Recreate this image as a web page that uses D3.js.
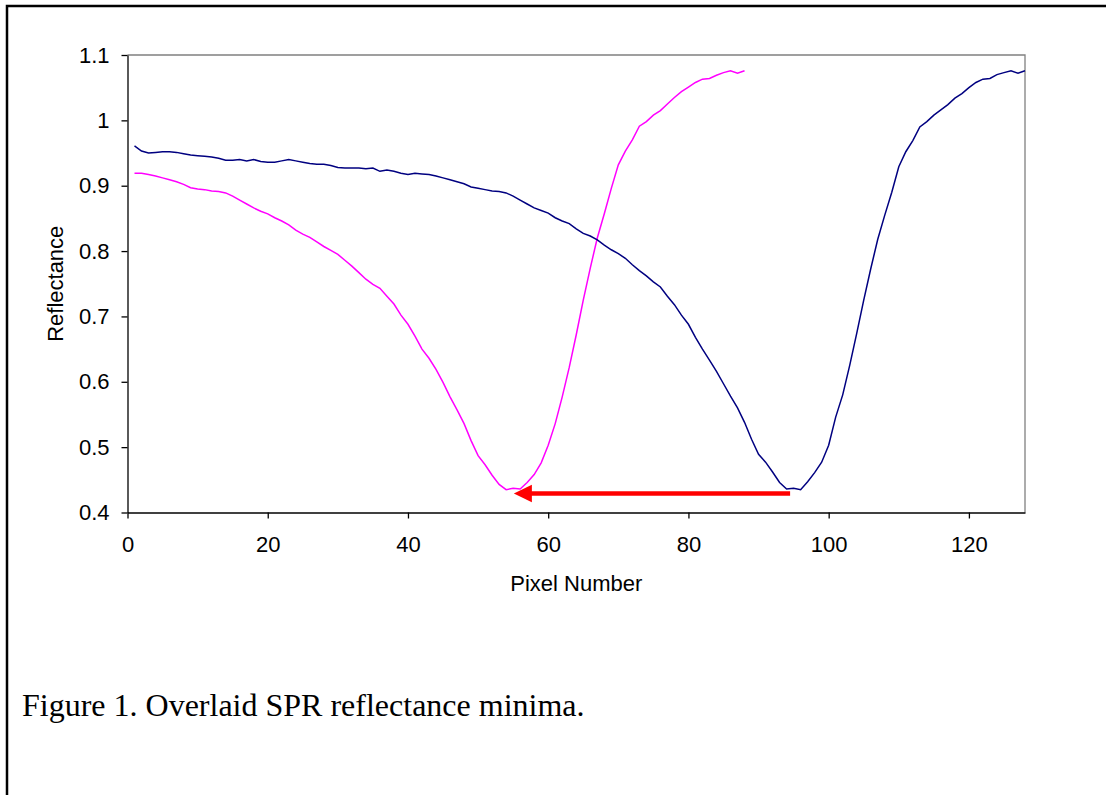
<!DOCTYPE html>
<html>
<head>
<meta charset="utf-8">
<script src="https://cdn.jsdelivr.net/npm/d3@7"></script>
<style>
  html, body { margin: 0; padding: 0; background: #fff; }
  svg { display: block; }
</style>
</head>
<body>
<svg id="chart" width="1106" height="795"></svg>
<script>
// ---- data ----
const pixelsBlue = d3.range(1, 129);
const reflBlue = [
  0.961,0.953,0.950,0.951,0.952,0.952,0.951,0.949,0.947,0.946,
  0.945,0.944,0.942,0.939,0.939,0.940,0.938,0.940,0.937,0.936,
  0.936,0.938,0.940,0.938,0.936,0.934,0.933,0.933,0.931,0.928,
  0.927,0.927,0.927,0.926,0.927,0.922,0.924,0.922,0.919,0.917,
  0.919,0.918,0.917,0.915,0.912,0.909,0.906,0.903,0.898,0.896,
  0.894,0.892,0.891,0.889,0.884,0.878,0.872,0.866,0.862,0.858,
  0.851,0.846,0.842,0.834,0.827,0.823,0.817,0.809,0.802,0.796,
  0.789,0.779,0.770,0.762,0.753,0.745,0.731,0.718,0.702,0.688,
  0.668,0.650,0.633,0.616,0.597,0.578,0.560,0.538,0.512,0.489,
  0.477,0.462,0.446,0.436,0.437,0.435,0.447,0.461,0.477,0.503,
  0.546,0.580,0.625,0.674,0.725,0.773,0.818,0.855,0.890,0.929,
  0.952,0.969,0.990,0.998,1.008,1.016,1.024,1.034,1.041,1.050,
  1.058,1.063,1.064,1.070,1.073,1.076,1.072,1.076
];
const pixelsMagenta = d3.range(1, 89);
const reflMagenta = [
  0.919,0.919,0.917,0.915,0.912,0.909,0.906,0.902,0.897,0.895,
  0.894,0.892,0.891,0.889,0.884,0.878,0.872,0.866,0.861,0.857,
  0.851,0.846,0.840,0.832,0.826,0.821,0.814,0.807,0.801,0.795,
  0.786,0.777,0.767,0.757,0.749,0.743,0.731,0.719,0.702,0.688,
  0.670,0.650,0.636,0.619,0.599,0.577,0.557,0.536,0.510,0.487,
  0.473,0.457,0.443,0.435,0.437,0.436,0.446,0.458,0.476,0.503,
  0.536,0.577,0.622,0.672,0.725,0.774,0.820,0.857,0.896,0.932,
  0.953,0.970,0.991,0.998,1.008,1.015,1.025,1.035,1.044,1.051,
  1.058,1.063,1.064,1.069,1.073,1.076,1.072,1.076
];
const xTicks = [0, 20, 40, 60, 80, 100, 120];
const yTicks = [0.4, 0.5, 0.6, 0.7, 0.8, 0.9, 1.0, 1.1];
const xDomain = [0, 128];
const yDomain = [0.4, 1.1];
const arrowFromX = 94.5, arrowToX = 55.1, arrowY = 0.429;
const xTitle = "Pixel Number";
const yTitle = "Reflectance";
const caption = "Figure 1. Overlaid SPR reflectance minima.";

// ---- layout ----
const svg = d3.select("#chart");
const L = 127.5, R = 1025, T = 55, B = 512.5;
const x = d3.scaleLinear().domain(xDomain).range([L, R]);
const y = d3.scaleLinear().domain(yDomain).range([B, T]);

// outer frame
svg.append("rect").attr("x", 7).attr("y", 6).attr("width", 1300).attr("height", 1000)
  .attr("fill", "none").attr("stroke", "#000").attr("stroke-width", 2.5);

// plot border (top & right gray)
svg.append("path")
  .attr("d", `M${L},${T}H${R}V${B}`)
  .attr("fill", "none").attr("stroke", "#808080").attr("stroke-width", 1.3);

const font = "'Liberation Sans', Arial, sans-serif";

// axes
const xAxis = svg.append("g").attr("transform", `translate(0,${B})`)
  .call(d3.axisBottom(x).tickValues(xTicks).tickSize(6).tickPadding(6).tickSizeOuter(0).tickFormat(d3.format("d")));
const yAxis = svg.append("g").attr("transform", `translate(${L},0)`)
  .call(d3.axisLeft(y).tickValues(yTicks).tickSize(6).tickPadding(12).tickSizeOuter(0)
    .tickFormat(d => d === 1 ? "1" : d3.format(".1f")(d)));
[xAxis, yAxis].forEach(g => {
  g.select(".domain").attr("stroke", "#000").attr("stroke-width", 1.3);
  g.selectAll(".tick line").attr("stroke", "#000").attr("stroke-width", 1.3);
  g.selectAll(".tick text").attr("font-family", font).attr("font-size", 22).attr("fill", "#000");
});
xAxis.selectAll(".tick text").attr("dy", "0.71em").attr("y", 24);
yAxis.selectAll(".tick text").attr("x", -18);

// titles
svg.append("text").attr("x", (L + R) / 2).attr("y", 591).attr("text-anchor", "middle")
  .attr("font-family", font).attr("font-size", 22).text(xTitle);
svg.append("text").attr("transform", `translate(63,${(T + B) / 2}) rotate(-90)`)
  .attr("text-anchor", "middle").attr("font-family", font).attr("font-size", 22).text(yTitle);

// lines
const line = d3.line().x(d => x(d[0])).y(d => y(d[1]));
svg.append("path").datum(pixelsMagenta.map((p, i) => [p, reflMagenta[i]]))
  .attr("d", line).attr("fill", "none").attr("stroke", "#FF00FF").attr("stroke-width", 1.5);
svg.append("path").datum(pixelsBlue.map((p, i) => [p, reflBlue[i]]))
  .attr("d", line).attr("fill", "none").attr("stroke", "#000080").attr("stroke-width", 1.5);

// arrow
const ax0 = x(arrowFromX), ax1 = x(arrowToX), ay = y(arrowY);
const headLen = 18, headHalf = 8.7;
svg.append("line").attr("x1", ax0).attr("x2", ax1 + headLen - 1).attr("y1", ay).attr("y2", ay)
  .attr("stroke", "#FF0000").attr("stroke-width", 4.5);
svg.append("path")
  .attr("d", `M${ax1},${ay}L${ax1 + headLen},${ay - headHalf}L${ax1 + headLen},${ay + headHalf}Z`)
  .attr("fill", "#FF0000");

// caption
svg.append("text").attr("x", 22).attr("y", 716)
  .attr("font-family", "'Liberation Serif', 'Times New Roman', serif").attr("font-size", 32)
  .attr("fill", "#000").text(caption);
</script>
</body>
</html>
